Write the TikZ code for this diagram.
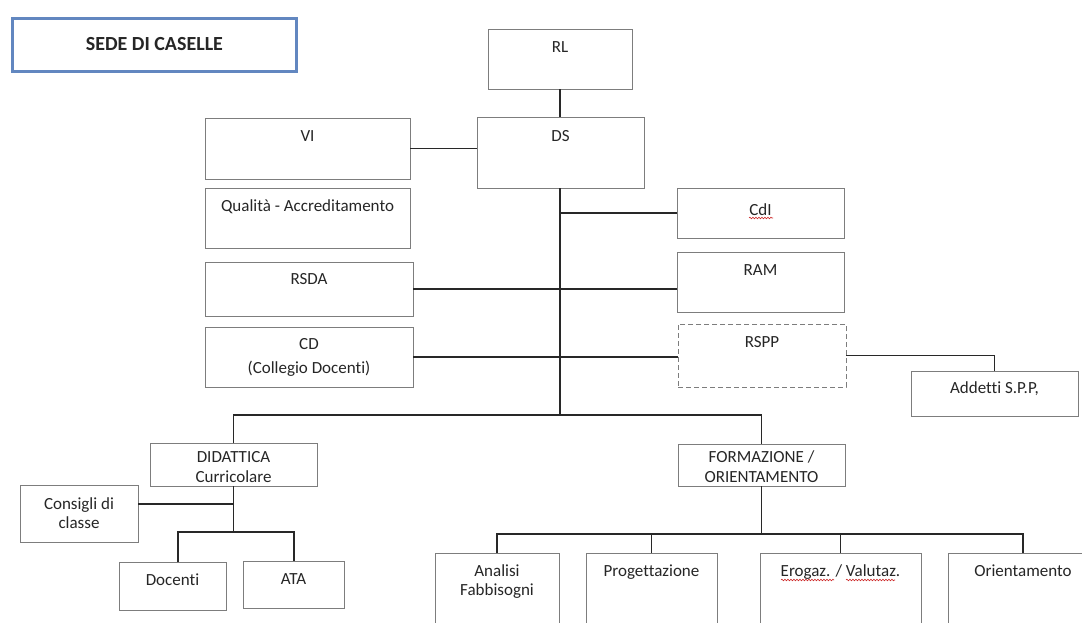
\documentclass[tikz,border=0pt]{standalone}
\usepackage{fontspec}
\setmainfont{Carlito}[Ligatures={NoCommon}]
\usetikzlibrary{decorations.pathmorphing}
\definecolor{boxgray}{RGB}{125,125,125}
\definecolor{linegray}{RGB}{40,40,40}
\definecolor{sedeblue}{RGB}{98,135,192}
\definecolor{squig}{RGB}{205,40,40}
\tikzset{
  obox/.style={draw=boxgray, line width=1pt, anchor=north west, inner sep=0pt, outer sep=0pt,
               font=\fontsize{17}{20}\selectfont, text=black!85},
  dashbox/.style={dashed, dash pattern=on 5pt off 3pt},
  conn/.style={draw=linegray, line width=1.5pt},
  squiggle/.style={draw=squig, line width=0.6pt, decorate, decoration={snake, amplitude=0.8pt, segment length=3pt}}
}
\newcommand\obox[8][]{\node[obox,#1] (#2) at (#3,#4) {\parbox[t][#6pt][t]{#5pt}{\centering\rule{0pt}{#7pt}#8}};}
\begin{document}
\begin{tikzpicture}[x=1pt,y=-1pt]
\useasboundingbox (0,0) rectangle (1082,622);
\fill[white] (0,0) rectangle (1082,622);
\clip (0,0) rectangle (1082,622);

% title
\node[draw=sedeblue, line width=2.8pt, fill=white, minimum width=284pt, minimum height=53pt,
      anchor=north west, inner sep=0pt, font=\bfseries\fontsize{20}{24}\selectfont, text=black!85]
      (sede) at (11,17) {\raisebox{2pt}{SEDE DI CASELLE}};

% boxes
\obox{rl}{488}{29}{144}{60}{23}{RL}
\obox{ds}{477}{117}{167}{71}{24}{DS}
\obox{vi}{205}{118}{205}{61}{23}{VI}
\obox{qa}{205}{188}{205}{60}{23}{Qualità - Accreditamento}
\obox{cdi}{677}{188}{167}{50}{27}{CdI}
\obox{ram}{677}{252}{167}{60}{23}{RAM}
\obox{rsda}{205}{262}{208}{54}{22}{RSDA}
\obox{cd}{205}{327}{208}{60}{22}{CD\\[4pt](Collegio Docenti)}
\obox[dashbox]{rspp}{678}{324}{168}{63}{23}{RSPP}
\obox{add}{911}{371}{167}{45}{22}{Addetti S.P.P,}
\obox{did}{150}{443}{167}{43}{19}{DIDATTICA\\Curricolare}
\obox{form}{678}{444}{167}{42}{18}{FORMAZIONE /\\ORIENTAMENTO}
\obox{cons}{20}{485}{118}{57}{24}{Consigli di\\[-1pt]classe}
\obox{doc}{119}{562}{107}{48}{23}{Docenti}
\obox{ata}{243}{561}{101}{47}{23}{ATA}
\obox{ana}{435}{553}{124}{80}{23}{Analisi\\[-1pt]Fabbisogni}
\obox{prog}{586}{553}{131}{80}{23}{Progettazione}
\obox{ero}{760}{553}{161}{80}{23}{Erogaz. / Valutaz.}
\obox{ori}{948}{553}{150}{80}{23}{Orientamento}

% spell-check marks
\draw[squiggle] (749,218) -- (773,218);
\draw[squiggle] (781,580) -- (834,580);
\draw[squiggle] (846,580) -- (895,580);

% connectors
\coordinate (bus) at (559,415);
\draw[conn] (rl.south) -- (rl.south |- ds.north);
\draw[conn] (vi.east) -- (vi.east -| ds.west);
\draw[conn] (rl.south |- ds.south) -- (rl.south |- bus);
\draw[conn] (rl.south |- cdi.west) -- (cdi.west);
\draw[conn] (rsda.east) -- (rsda.east -| ram.west);
\draw[conn] (cd.east) -- (cd.east -| rspp.west);
\draw[conn] (rspp.east) -| (add.north);
\draw[conn] (did.north) |- (bus) -| (form.north);
% didattica branch
\draw[conn] (did.south) -- (did.south |- 0,532);
\draw[conn] (cons.east |- 0,504) -- (did.south |- 0,504);
\draw[conn] (178,562) -- (178,532) -- (294,532) -- (294,561);
% formazione branch
\draw[conn] (form.south) -- (form.south |- 0,534);
\draw[conn] (ana.north) |- (form.south |- 0,534) -| (ori.north);
\draw[conn] (prog.north) -- (prog.north |- 0,534);
\draw[conn] (ero.north) -- (ero.north |- 0,534);
\end{tikzpicture}
\end{document}
